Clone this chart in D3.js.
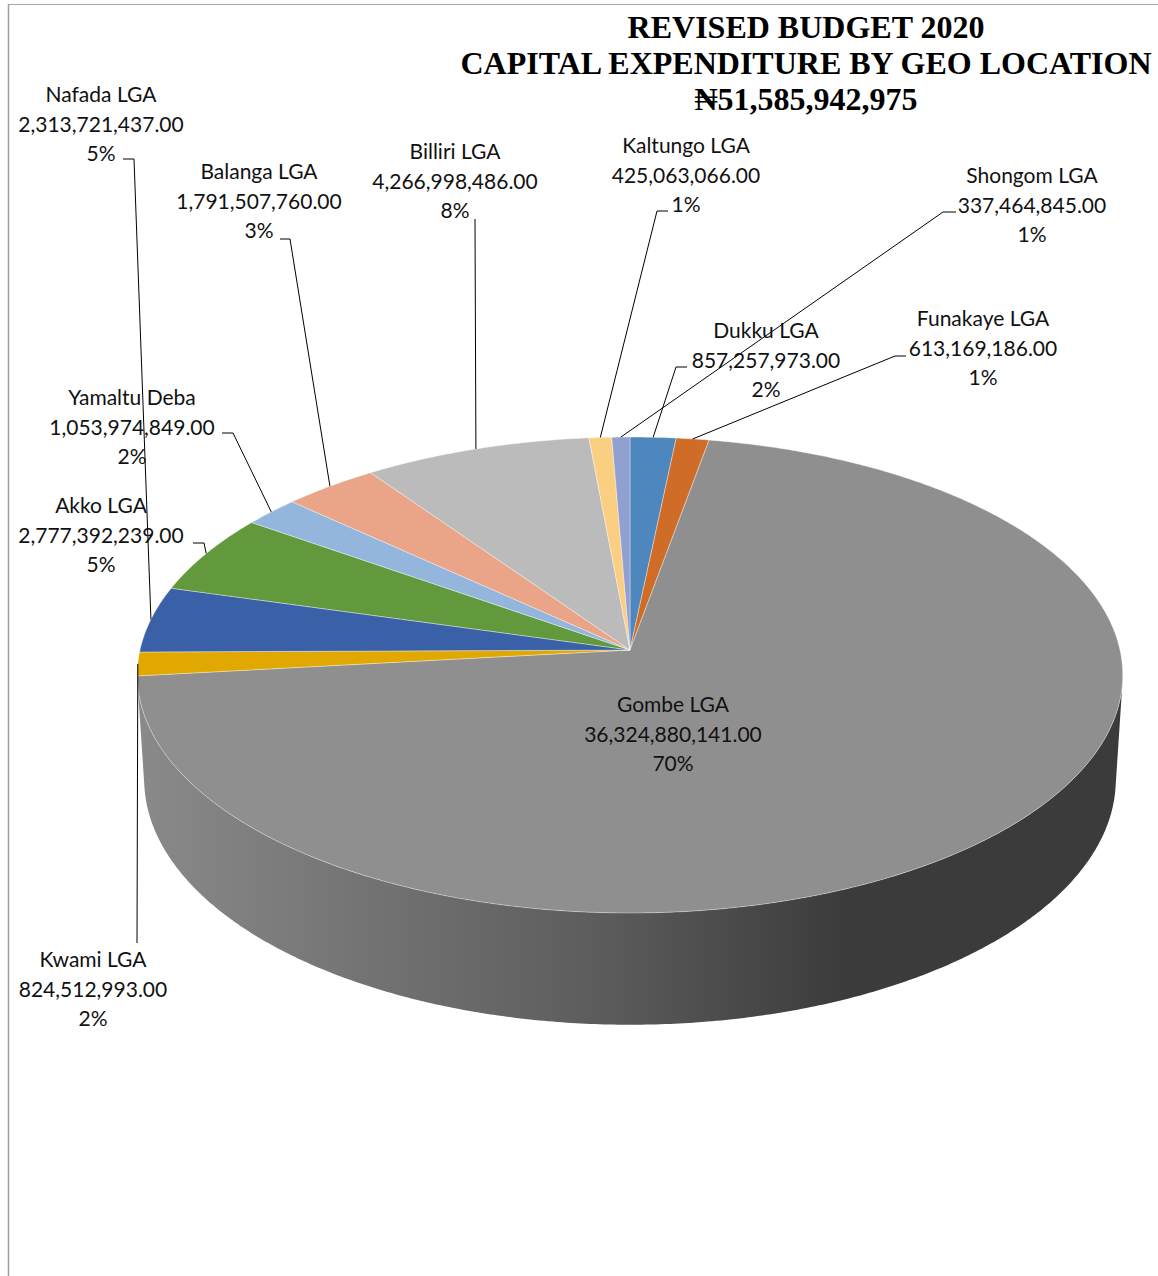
<!DOCTYPE html>
<html>
<head>
<meta charset="utf-8">
<style>
  body { margin: 0; background: #fff; }
  svg text { font-family: Lato, "Open Sans", sans-serif; font-size: 21px; fill: #111; }
  svg text.title { font-family: "Liberation Serif", "Times New Roman", serif; font-weight: bold; font-size: 32px; fill: #000; }
</style>
</head>
<body>
<svg id="chart" width="1158" height="1276"></svg>
<script src="https://cdnjs.cloudflare.com/ajax/libs/d3/7.8.5/d3.min.js"></script>
<script>
// data, in slice order clockwise from 12 o'clock
var names = ["Dukku LGA", "Funakaye LGA", "Gombe LGA", "Kwami LGA", "Nafada LGA", "Akko LGA",
             "Yamaltu Deba", "Balanga LGA", "Billiri LGA", "Kaltungo LGA", "Shongom LGA"];
var values = [857257973, 613169186, 36324880141, 824512993, 2313721437, 2777392239,
              1053974849, 1791507760, 4266998486, 425063066, 337464845];
var pctLabels = ["2%", "1%", "70%", "2%", "5%", "5%", "2%", "3%", "8%", "1%", "1%"];
var colors = ["#4e87bd", "#cf6d28", "#8f8f8f", "#e0a800", "#3a61a8", "#61993c",
              "#95b6dc", "#eaa588", "#bbbbbb", "#fbcf82", "#8fa0d1"];
var titleLines = ["REVISED BUDGET 2020", "CAPITAL EXPENDITURE BY GEO LOCATION", "\u20A651,585,942,975"];

// label layout: centre x, first baseline, leader start points
var labelPos = {
  "Dukku LGA":    {x: 766,  y: 338, lead: [[687, 367], [676, 367]]},
  "Funakaye LGA": {x: 983,  y: 326, lead: [[906, 356], [895, 356]]},
  "Gombe LGA":    {x: 673,  y: 712, lead: null},
  "Kwami LGA":    {x: 93,   y: 967, lead: [[137, 943]]},
  "Nafada LGA":   {x: 101,  y: 102, lead: [[123, 159], [134, 159]]},
  "Akko LGA":     {x: 101,  y: 513, lead: [[193, 543], [204, 543]]},
  "Yamaltu Deba": {x: 132,  y: 405, lead: [[222, 433], [233, 433]]},
  "Balanga LGA":  {x: 259,  y: 179, lead: [[280, 239], [290, 239]]},
  "Billiri LGA":  {x: 455,  y: 159, lead: [[475, 219]]},
  "Kaltungo LGA": {x: 686,  y: 153, lead: [[668, 211], [657, 211]]},
  "Shongom LGA":  {x: 1032, y: 183, lead: [[956, 212], [943, 212]]}
};

var svg = d3.select("#chart");
var fmt = d3.format(",.2f");
var lineH = 29.5;

// frame
svg.append("line").attr("x1", 8).attr("y1", 4.5).attr("x2", 1158).attr("y2", 4.5)
   .attr("stroke", "#a8a8a8").attr("stroke-width", 1);
svg.append("line").attr("x1", 8.5).attr("y1", 4).attr("x2", 8.5).attr("y2", 1276)
   .attr("stroke", "#a0a0a0").attr("stroke-width", 1.5);

// simple perspective projection of a tilted disc
var cx = 630, cy = 650, K = 490, D = 8.35, H = 0.245;
var se = 0.4803, ce = Math.sqrt(1 - se * se);
function project(a, r, h) {
  var X = r * Math.sin(a), Z = r * Math.cos(a), Y = h;
  var yc = Y * ce + Z * se, zc = D + Z * ce - Y * se;
  return [cx + K * D * X / zc, cy - K * D * yc / zc];
}
function arcPts(a0, a1, h) {
  var n = Math.max(2, Math.ceil((a1 - a0) / (Math.PI / 360)));
  return d3.range(n + 1).map(function(i) { return project(a0 + (a1 - a0) * i / n, 1, h); });
}
// the outer wall faces the camera only where cos(a) < -1/(D*ce)
var wallFrom = Math.acos(-1 / (D * ce)), wallTo = 2 * Math.PI - wallFrom;

var pie = d3.pie().sort(null).value(function(d) { return d; });
var arcs = pie(values);
var line = d3.line();

// side gradients
var defs = svg.append("defs");
arcs.forEach(function(d, i) {
  var c = d3.rgb(colors[i]);
  var g = defs.append("linearGradient").attr("id", "side" + i)
    .attr("gradientUnits", "userSpaceOnUse")
    .attr("x1", 137).attr("x2", 1123).attr("y1", 0).attr("y2", 0);
  [[0, 0.965], [0.47, 0.64], [0.72, 0.41], [1, 0.41]].forEach(function(s) {
    g.append("stop").attr("offset", s[0])
      .attr("stop-color", d3.rgb(c.r * s[1], c.g * s[1], c.b * s[1]));
  });
});

// outer walls (front-facing part only)
var walls = arcs.filter(function(d) { return d.endAngle > wallFrom && d.startAngle < wallTo; });
svg.append("g").selectAll("path").data(walls).enter().append("path")
  .attr("d", function(d) {
    var a0 = Math.max(d.startAngle, wallFrom), a1 = Math.min(d.endAngle, wallTo);
    var top = arcPts(a0, a1, 0);
    var bot = arcPts(a0, a1, -H).reverse();
    return line(top.concat(bot)) + "Z";
  })
  .attr("fill", function(d) { return "url(#side" + d.index + ")"; });

// top faces
var apex = project(0, 0, 0);
svg.append("g").selectAll("path").data(arcs).enter().append("path")
  .attr("d", function(d) {
    return line([apex].concat(arcPts(d.startAngle, d.endAngle, 0))) + "Z";
  })
  .attr("fill", function(d, i) { return colors[i]; })
  .attr("stroke", "rgba(255,255,255,0.45)")
  .attr("stroke-width", 0.8)
  .attr("stroke-linejoin", "round");

// leader lines
svg.append("g").selectAll("path").data(arcs.filter(function(d, i) { return labelPos[names[i]].lead; }))
  .enter().append("path")
  .attr("d", function(d) {
    var p = labelPos[names[d.index]];
    var mid = (d.startAngle + d.endAngle) / 2;
    return line(p.lead.concat([project(mid, 1, 0)]));
  })
  .attr("fill", "none").attr("stroke", "#000").attr("stroke-width", 1);

// data labels
var lab = svg.append("g").selectAll("text").data(arcs).enter().append("text")
  .attr("text-anchor", "middle")
  .attr("x", function(d) { return labelPos[names[d.index]].x; })
  .attr("y", function(d) { return labelPos[names[d.index]].y; });
lab.each(function(d) {
  var p = labelPos[names[d.index]];
  var rows = [names[d.index], fmt(d.value), pctLabels[d.index]];
  d3.select(this).selectAll("tspan").data(rows).enter().append("tspan")
    .attr("x", p.x).attr("y", function(r, j) { return p.y + j * lineH; })
    .text(function(r) { return r; });
});

// title
svg.append("g").selectAll("text").data(titleLines).enter().append("text")
  .attr("class", "title").attr("text-anchor", "middle")
  .attr("x", 806).attr("y", function(d, i) { return 38 + i * 36; })
  .text(function(d) { return d; });
</script>
</body>
</html>
